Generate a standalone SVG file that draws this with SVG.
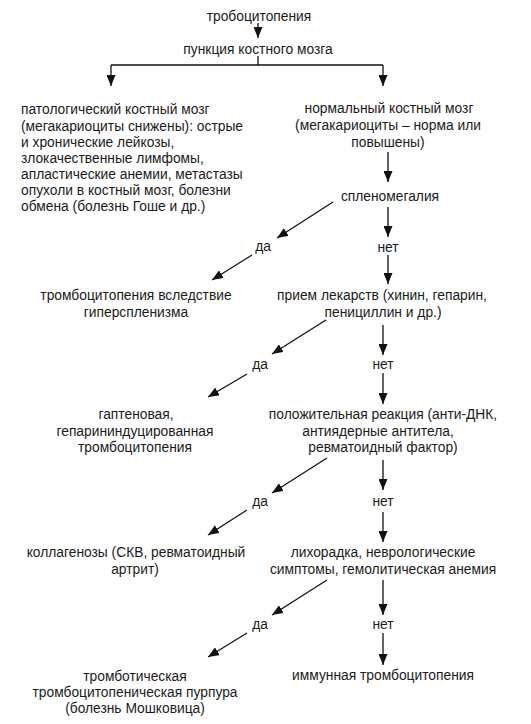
<svg xmlns="http://www.w3.org/2000/svg" width="531" height="724" viewBox="0 0 531 724">
<defs>
<style>
text{font-family:"Liberation Sans",Arial,sans-serif;font-size:13.8px;fill:#1a1a1a}
.c{text-anchor:middle}
.l{text-anchor:start}
#connectors line,#connectors path{stroke:#111;stroke-width:1.3;fill:none}
</style>
<marker id="ah" markerUnits="userSpaceOnUse" markerWidth="11" markerHeight="9" refX="11" refY="4.5" orient="auto">
<path d="M0,0 L11,4.5 L0,9 z" fill="#111"/>
</marker>
</defs>
<rect width="531" height="724" fill="#fff"/>
<g id="connectors">
<line x1="258" y1="23" x2="258" y2="38" marker-end="url(#ah)"/>
<path d="M258,56 V65 M111,65 H383"/>
<line x1="111" y1="65" x2="111" y2="86" marker-end="url(#ah)"/>
<line x1="383" y1="65" x2="383" y2="86" marker-end="url(#ah)"/>
<line x1="388" y1="152" x2="388" y2="182" marker-end="url(#ah)"/>
<line x1="333" y1="202" x2="277" y2="238" marker-end="url(#ah)"/>
<line x1="252" y1="255" x2="212" y2="280" marker-end="url(#ah)"/>
<line x1="388" y1="207" x2="388" y2="237" marker-end="url(#ah)"/>
<line x1="388" y1="255" x2="388" y2="284" marker-end="url(#ah)"/>
<line x1="326" y1="320" x2="272" y2="354" marker-end="url(#ah)"/>
<line x1="247" y1="374" x2="208" y2="397" marker-end="url(#ah)"/>
<line x1="383" y1="325" x2="383" y2="355" marker-end="url(#ah)"/>
<line x1="383" y1="373" x2="383" y2="404" marker-end="url(#ah)"/>
<line x1="327" y1="458" x2="272" y2="493" marker-end="url(#ah)"/>
<line x1="247" y1="510" x2="208" y2="535" marker-end="url(#ah)"/>
<line x1="383" y1="460" x2="383" y2="490" marker-end="url(#ah)"/>
<line x1="383" y1="512" x2="383" y2="542" marker-end="url(#ah)"/>
<line x1="327" y1="580" x2="272" y2="615" marker-end="url(#ah)"/>
<line x1="247" y1="633" x2="208" y2="657" marker-end="url(#ah)"/>
<line x1="383" y1="580" x2="383" y2="615" marker-end="url(#ah)"/>
<line x1="383" y1="633" x2="383" y2="665" marker-end="url(#ah)"/>
</g>
<g id="n-top"><text class="c" x="259" y="21">тробоцитопения</text></g>
<g id="n-punct"><text class="c" x="258" y="54">пункция костного мозга</text></g>
<g id="n-patho">
<text class="l" x="21" y="114">патологический костный мозг</text>
<text class="l" x="21" y="130.5">(мегакариоциты снижены): острые</text>
<text class="l" x="21" y="147">и хронические лейкозы,</text>
<text class="l" x="21" y="163">злокачественные лимфомы,</text>
<text class="l" x="21" y="179">апластические анемии, метастазы</text>
<text class="l" x="21" y="195">опухоли в костный мозг, болезни</text>
<text class="l" x="21" y="211">обмена (болезнь Гоше и др.)</text>
</g>
<g id="n-normal">
<text class="c" x="389" y="113">нормальный костный мозг</text>
<text class="c" x="388" y="130">(мегакариоциты – норма или</text>
<text class="c" x="388" y="147">повышены)</text>
</g>
<g id="n-spleno"><text class="c" x="390" y="201">спленомегалия</text></g>
<g id="l-da1"><text class="c" x="263" y="251">да</text></g>
<g id="l-net1"><text class="c" x="388" y="252">нет</text></g>
<g id="n-hyper">
<text class="c" x="136" y="300">тромбоцитопения вследствие</text>
<text class="c" x="136" y="317">гиперспленизма</text>
</g>
<g id="n-drugs">
<text class="c" x="382" y="300">прием лекарств (хинин, гепарин,</text>
<text class="c" x="383" y="317">пенициллин и др.)</text>
</g>
<g id="l-da2"><text class="c" x="260" y="369">да</text></g>
<g id="l-net2"><text class="c" x="383" y="369">нет</text></g>
<g id="n-hapten">
<text class="c" x="136" y="419">гаптеновая,</text>
<text class="c" x="135" y="436">гепарининдуцированная</text>
<text class="c" x="135" y="452">тромбоцитопения</text>
</g>
<g id="n-positive">
<text class="c" x="383" y="419">положительная реакция (анти-ДНК,</text>
<text class="c" x="378" y="436">антиядерные антитела,</text>
<text class="c" x="383" y="452">ревматоидный фактор)</text>
</g>
<g id="l-da3"><text class="c" x="260" y="506">да</text></g>
<g id="l-net3"><text class="c" x="383" y="506">нет</text></g>
<g id="n-collagen">
<text class="c" x="136" y="557">коллагенозы (СКВ, ревматоидный</text>
<text class="c" x="135" y="574">артрит)</text>
</g>
<g id="n-fever">
<text class="c" x="383" y="557">лихорадка, неврологические</text>
<text class="c" x="383" y="574">симптомы, гемолитическая анемия</text>
</g>
<g id="l-da4"><text class="c" x="260" y="629">да</text></g>
<g id="l-net4"><text class="c" x="383" y="629">нет</text></g>
<g id="n-ttp">
<text class="c" x="135" y="681">тромботическая</text>
<text class="c" x="135" y="697">тромбоцитопеническая пурпура</text>
<text class="c" x="135" y="713">(болезнь Мошковица)</text>
</g>
<g id="n-immune"><text class="c" x="383" y="680">иммунная тромбоцитопения</text></g>
</svg>
